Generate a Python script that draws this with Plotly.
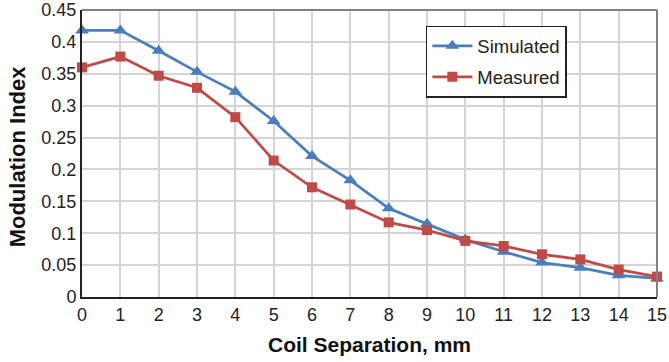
import plotly.graph_objects as go

separation_mm = list(range(16))
simulated = [0.418, 0.418, 0.386, 0.353, 0.322, 0.276, 0.221, 0.183, 0.139, 0.115,
             0.090, 0.071, 0.054, 0.046, 0.034, 0.029]
measured = [0.360, 0.377, 0.347, 0.328, 0.282, 0.214, 0.172, 0.145, 0.117, 0.105,
            0.088, 0.080, 0.067, 0.059, 0.043, 0.032]
x_ticks = list(range(16))
y_ticks = [0, 0.05, 0.1, 0.15, 0.2, 0.25, 0.3, 0.35, 0.4, 0.45]
y_tick_labels = ["0", "0.05", "0.1", "0.15", "0.2", "0.25", "0.3", "0.35", "0.4", "0.45"]

BLUE = "#4A7EBB"
RED = "#BE4B48"
FONT = "Liberation Sans, Arial, sans-serif"

fig = go.Figure()
fig.add_trace(go.Scatter(
    x=separation_mm, y=simulated, name="Simulated", mode="lines+markers",
    line=dict(color=BLUE, width=2.75),
    marker=dict(symbol="triangle-up", size=12, color=BLUE),
    legendgroup="a", cliponaxis=False))
fig.add_trace(go.Scatter(
    x=separation_mm, y=measured, name="Measured", mode="lines+markers",
    line=dict(color=RED, width=2.75),
    marker=dict(symbol="square", size=10, color=RED),
    legendgroup="b", cliponaxis=False))

fig.update_layout(
    width=669, height=362,
    margin=dict(l=82, r=12, t=10, b=65, autoexpand=False),
    paper_bgcolor="white", plot_bgcolor="white",
    font=dict(family=FONT, size=18, color="#222222"),
    showlegend=True,
    legend=dict(
        x=0.598, y=0.945, xanchor="left", yanchor="top",
        bordercolor="#222222", borderwidth=1.5, bgcolor="white",
        font=dict(size=18.5, color="#222222"),
        traceorder="grouped", tracegroupgap=4, itemwidth=40,
    ),
    xaxis=dict(
        range=[0, 15], tickmode="array", tickvals=x_ticks,
        showgrid=True, gridcolor="#D4D4D4", gridwidth=1.5,
        showline=True, linecolor="#222222", linewidth=2,
        ticks="", zeroline=False, automargin=False,
        tickfont=dict(size=18),
    ),
    yaxis=dict(
        range=[0, 0.45], tickmode="array", tickvals=y_ticks, ticktext=y_tick_labels,
        showgrid=True, gridcolor="#D4D4D4", gridwidth=1.5,
        showline=True, linecolor="#222222", linewidth=2,
        ticks="", zeroline=False, automargin=False,
        tickfont=dict(size=18),
    ),
    shapes=[
        dict(type="line", xref="paper", yref="paper", x0=0, x1=1, y0=1, y1=1,
             line=dict(color="#808080", width=2)),
        dict(type="line", xref="paper", yref="paper", x0=1, x1=1, y0=0, y1=1,
             line=dict(color="#808080", width=2)),
    ],
    annotations=[
        dict(text="<b>Coil Separation, mm</b>", xref="paper", yref="paper",
             x=0.5, y=0, xanchor="center", yanchor="middle", yshift=-47,
             showarrow=False, font=dict(size=21, color="#111111")),
        dict(text="<b>Modulation Index</b>", xref="paper", yref="paper",
             x=0, y=0.49, xanchor="center", yanchor="middle", xshift=-65,
             textangle=-90, showarrow=False, font=dict(size=22, color="#111111")),
    ],
)

fig.write_html("out.html", config={"displayModeBar": False},
               post_script="document.body.style.margin='0';")
